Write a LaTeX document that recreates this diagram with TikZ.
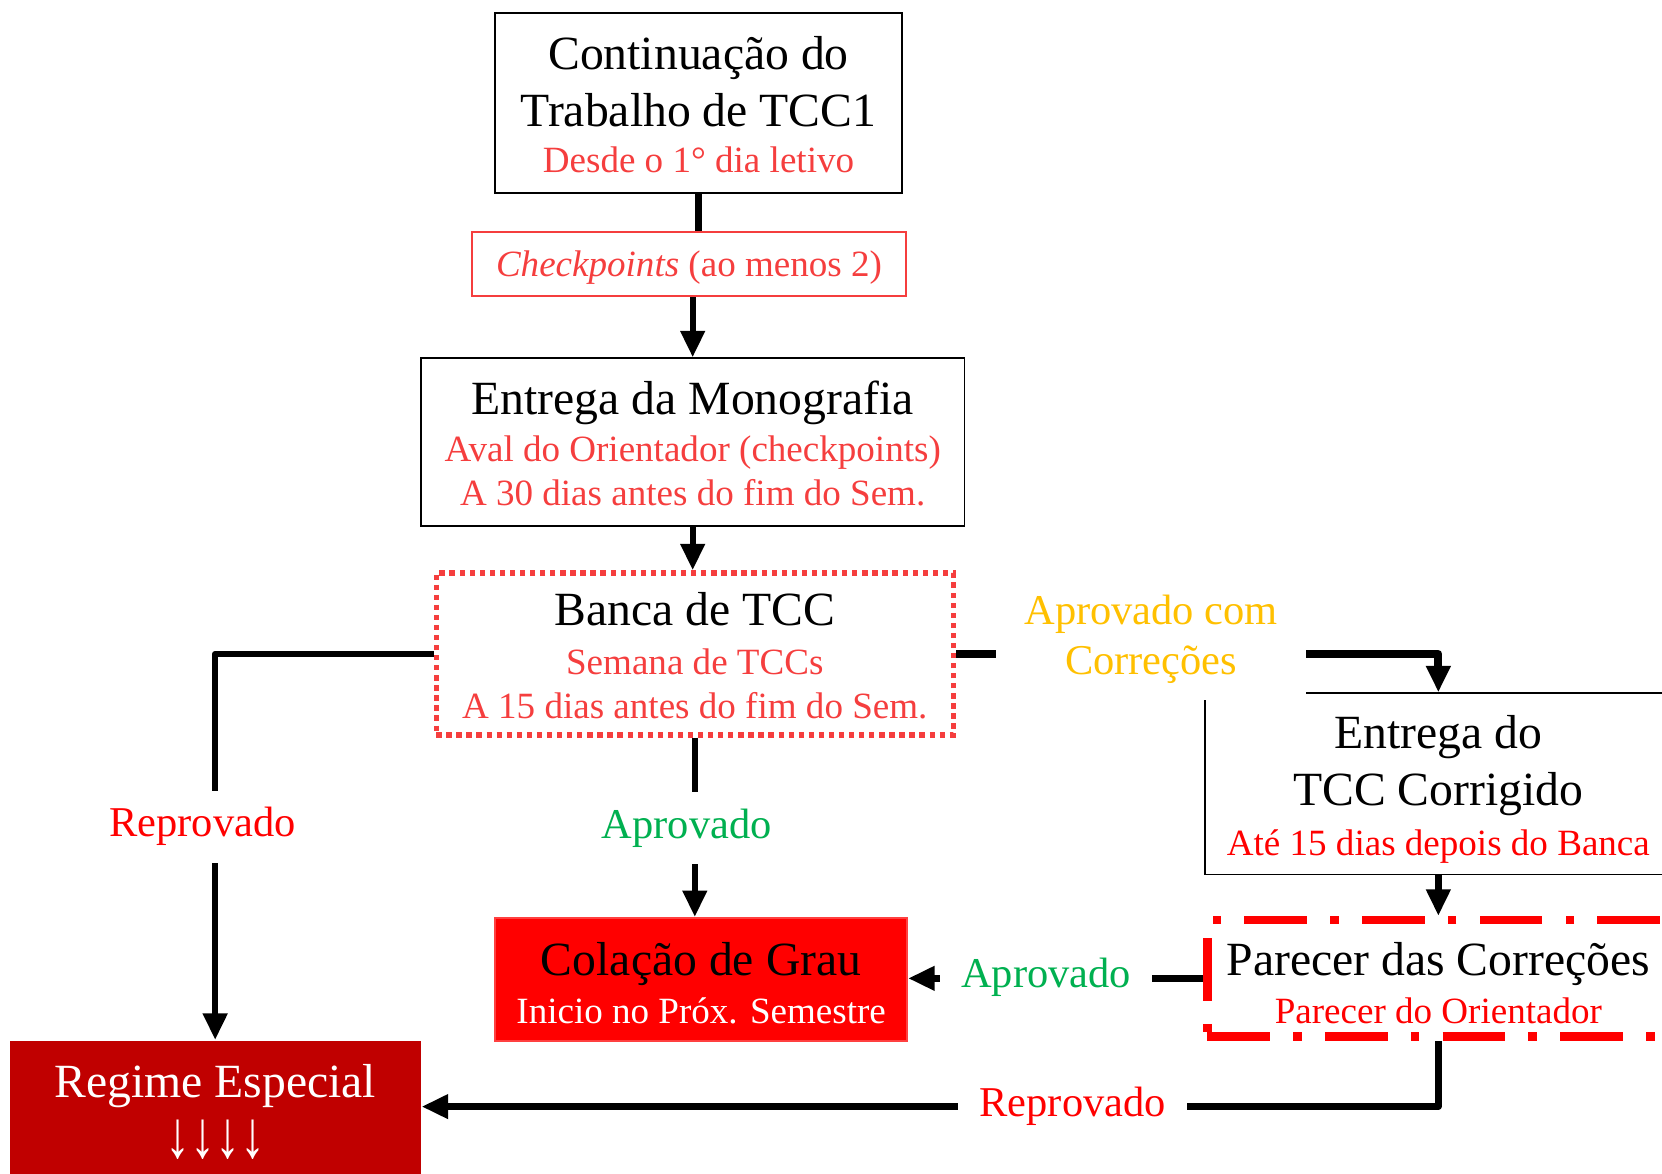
\documentclass[tikz,border=0pt]{standalone}
\usepackage{fontspec}
\usepackage{graphicx}
\setmainfont{Liberation Serif}
\usetikzlibrary{arrows.meta}
\definecolor{vermclaro}{RGB}{245,62,62}
\definecolor{vermescuro}{RGB}{192,0,0}
\definecolor{ouro}{RGB}{255,192,0}
\definecolor{verde}{RGB}{0,176,80}
\newcommand\tgrande{\fontsize{25.6}{30.7}\selectfont}
\newcommand\tsub{\fontsize{19.9}{23.9}\selectfont}
\newcommand\trot{\fontsize{22.8}{26.7}\selectfont}
\newcommand\topo[1]{\rule{0pt}{#1}}
\begin{document}
\begin{tikzpicture}[x=0.02cm,y=-0.02cm,
    caixa/.style={draw,line width=1pt,align=center,inner sep=0pt,font=\tgrande},
    liga/.style={line width=0.12cm,line join=round},
    fluxo/.style={liga,-{Triangle[length=0.5cm,width=0.44cm]}},
    rotulo/.style={fill=white,align=center,font=\trot,inner xsep=0.4cm,inner ysep=0.32cm}]
    \clip (0,0) rectangle (1568,1107);
    \node[caixa,minimum width=7.68cm,minimum height=3.4cm] (cont) at (659,97)
        {\topo{19.6pt}Continuação do\\ Trabalho de TCC1\\[-5.7pt] \tsub\color{vermclaro}Desde o 1° dia letivo};
    \node[caixa,draw=vermclaro,text=vermclaro,font=\tsub,text depth=-0.3pt,minimum width=8.2cm,minimum height=1.22cm] (chk) at (650,249)
        {\textit{Checkpoints} (ao menos 2)};
    \node[caixa,minimum width=10.26cm,minimum height=3.16cm] (entr) at (653.5,417)
        {\topo{19.6pt}Entrega da Monografia\\[-5.4pt] \tsub\color{vermclaro}Aval do Orientador (checkpoints)\\[-6.8pt]
         \tsub\color{vermclaro}A 30 dias antes do fim do Sem.};
    \node[caixa,draw=vermclaro,line width=0.1cm,dash pattern=on 0.1cm off 0.09cm,minimum width=9.76cm,minimum height=3.06cm] (banca) at (655.5,617)
        {\topo{19.6pt}Banca de TCC\\[-4.5pt] \tsub\color{vermclaro}Semana de TCCs\\[-6.8pt] \tsub\color{vermclaro}A 15 dias antes do fim do Sem.};
    \node[caixa,minimum width=8.8cm,minimum height=3.42cm] (corr) at (1357,739.5)
        {\topo{24pt}Entrega do\\ TCC Corrigido\\[-4pt] \tsub\color{red}Até 15 dias depois do Banca};
    \node[caixa,draw=red,line width=0.16cm,dash pattern=on 1.18cm off 0.44cm on 0.16cm off 0.44cm,minimum width=8.72cm,minimum height=2.2cm] (par) at (1357,923)
        {\topo{23pt}Parecer das Correções\\[-5.1pt] \tsub\color{red}Parecer do Orientador};
    \node[caixa,fill=red,draw=red!75!white,minimum width=7.78cm,minimum height=2.32cm] (col) at (661.5,924)
        {\topo{21.9pt}Colação de Grau\\[-5.1pt] \tsub\color{white}Inicio no Próx. Semestre};
    \node[caixa,fill=vermescuro,draw=none,text=white,minimum width=7.76cm,minimum height=2.68cm] (reg) at (203,1049)
        {Regime Especial\\[2pt] \scalebox{1.05}[1.4]{↓↓↓↓}};
    % ligacoes
    \draw[liga] (cont.south) -- (cont.south |- chk.north);
    \draw[fluxo] (chk.south -| entr.north) -- (entr.north);
    \draw[fluxo] (entr.south) -- (entr.south |- banca.north);
    \draw[fluxo] (banca.west) -| (reg.north);
    \draw[fluxo] (banca.south) -- (banca.south |- col.north);
    \draw[fluxo,line width=0.15cm] (banca.east) -| (corr.north);
    \draw[fluxo] (corr.south) -- (par.north);
    \draw[fluxo] (par.west) -- (par.west -| col.east);
    \draw[fluxo] (par.south) |- ([yshift=0.1cm]reg.east);
    % rotulos por cima das ligacoes
    \node[rotulo,text=red] (repr1) at (191,780) {Reprovado};
    \node[rotulo,text=verde] (apr1) at (648,781) {Aprovado};
    \node[rotulo,text=ouro,inner sep=0pt,minimum width=5.84cm,minimum height=2.28cm] (aprc) at (1086,603) {Aprovado com\\ Correções};
    \node[rotulo,text=verde] (apr2) at (987,922) {Aprovado};
    \node[rotulo,text=red] (repr2) at (1012,1044) {Reprovado};
\end{tikzpicture}
\end{document}
